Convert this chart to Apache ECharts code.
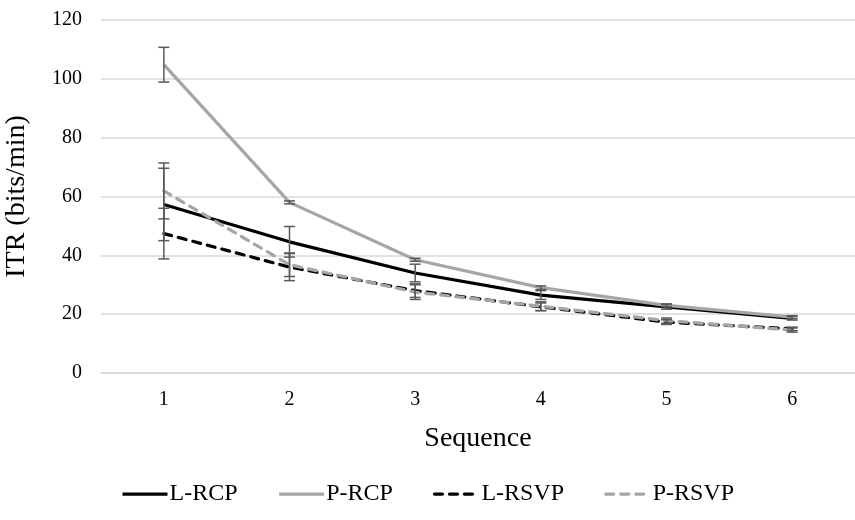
<!DOCTYPE html>
<html><head><meta charset="utf-8">
<script src="https://cdn.jsdelivr.net/npm/echarts@6/dist/echarts.min.js"></script>
<style>html,body{margin:0;padding:0;background:#fff}#c{width:855px;height:520px}</style>
</head><body><div id="c"></div>
<script>
const categories = ['1','2','3','4','5','6'];
const seriesNames = ['L-RCP','P-RCP','L-RSVP','P-RSVP'];
const lRCP = [57.3, 44.6, 34.0, 26.5, 22.5, 18.6];
const pRCP = [104.8, 58.0, 38.5, 29.0, 23.0, 19.0];
const lRSVP = [47.4, 36.0, 28.0, 22.5, 17.3, 15.0];
const pRSVP = [61.9, 36.8, 27.5, 22.7, 17.8, 14.6];
const lRCPErr = [12.3, 5.2, 3.0, 1.5, 0.8, 0.6];
const pRCPErr = [5.9, 0.5, 0.5, 0.6, 0.5, 0.5];
const lRSVPErr = [8.6, 4.6, 2.3, 1.3, 0.8, 0.6];
const pRSVPErr = [9.5, 4.0, 2.5, 1.5, 0.9, 0.7];
const yTicks = [0, 20, 40, 60, 80, 100, 120];

const values = [lRCP, pRCP, lRSVP, pRSVP];
const errs = [lRCPErr, pRCPErr, lRSVPErr, pRSVPErr];
const colors = ['#000000', '#a6a6a6', '#000000', '#a6a6a6'];
const dashed = [false, false, true, true];
const font = '"Liberation Serif","Times New Roman",serif';

const chart = echarts.init(document.getElementById('c'));
const series = [];
values.forEach((v, i) => {
  series.push({
    name: seriesNames[i], type: 'line', data: v, symbol: 'none',
    lineStyle: {color: colors[i], width: 3.25, type: dashed[i] ? [8, 7] : 'solid', cap: dashed[i] ? 'round' : 'butt'},
    itemStyle: {color: colors[i]}, z: 2
  });
});
values.forEach((v, i) => {
  series.push({
    type: 'custom', z: 3, silent: true,
    data: v.map((d, j) => [j, d - errs[i][j], d + errs[i][j]]),
    renderItem: function (params, api) {
      const x = api.value(0);
      const lo = api.coord([x, api.value(1)]);
      const hi = api.coord([x, api.value(2)]);
      const w = 5.5;
      const st = {stroke: '#595959', lineWidth: 1.5};
      return {type: 'group', children: [
        {type: 'line', shape: {x1: lo[0], y1: lo[1], x2: hi[0], y2: hi[1]}, style: st},
        {type: 'line', shape: {x1: lo[0]-w, y1: lo[1], x2: lo[0]+w, y2: lo[1]}, style: st},
        {type: 'line', shape: {x1: hi[0]-w, y1: hi[1], x2: hi[0]+w, y2: hi[1]}, style: st}
      ]};
    }
  });
});

chart.setOption({
  animation: false,
  grid: {left: 101, right: 0, top: 20, bottom: 147, containLabel: false, outerBoundsMode: 'none'},
  textStyle: {fontFamily: font},
  legend: {
    data: seriesNames, top: 477, left: 'center', itemWidth: 45, itemHeight: 14, itemGap: 40,
    itemStyle: {opacity: 0},
    lineStyle: {width: 3.25},
    textStyle: {fontFamily: font, fontSize: 24, color: '#000', padding: [0, 0, 0, -3]}
  },
  xAxis: {
    type: 'category', data: categories, boundaryGap: true,
    name: 'Sequence', nameLocation: 'middle', nameGap: 52,
    nameTextStyle: {fontFamily: font, fontSize: 28, color: '#000'},
    axisLine: {show: true, lineStyle: {color: '#d9d9d9', width: 1.5}},
    axisTick: {show: false},
    axisLabel: {fontFamily: font, fontSize: 20, color: '#000', margin: 17}
  },
  yAxis: {
    type: 'value', min: 0, max: 120, interval: 20,
    name: 'ITR (bits/min)', nameLocation: 'middle', nameGap: 70, nameRotate: 90,
    nameTextStyle: {fontFamily: font, fontSize: 28, color: '#000'},
    axisLine: {show: false}, axisTick: {show: false},
    splitLine: {lineStyle: {color: '#d9d9d9', width: 1.5}},
    axisLabel: {fontFamily: font, fontSize: 20, color: '#000', margin: 19,
      formatter: v => yTicks.includes(v) ? String(v) : ''}
  },
  series: series
});
</script></body></html>
